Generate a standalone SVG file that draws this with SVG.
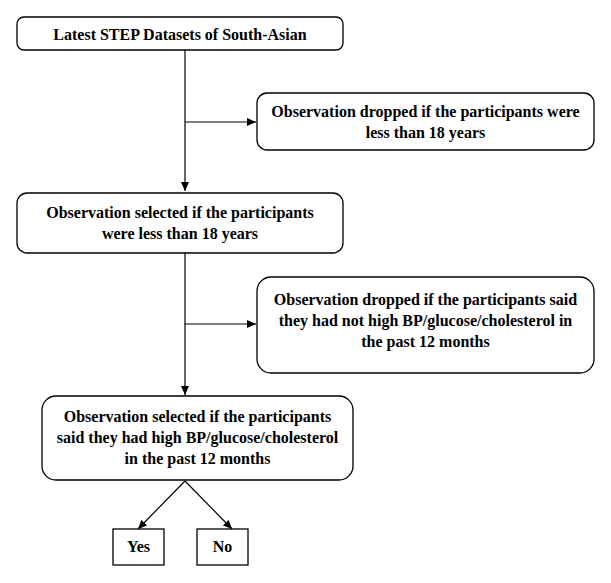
<svg xmlns="http://www.w3.org/2000/svg" width="611" height="583" viewBox="0 0 611 583">
<style>
.box{fill:#fff;stroke:#000;stroke-width:1.3}
.t{font-weight:bold;font-size:16px;fill:#000;text-anchor:middle}
.c{stroke:#000;stroke-width:1.2;fill:none}
</style>
<defs>
<marker id="ah" markerWidth="10" markerHeight="10" refX="9" refY="5" orient="auto" markerUnits="userSpaceOnUse">
<path d="M0,1 L9,5 L0,9 Z" fill="#000"/>
</marker>
</defs>
<g id="connectors">
<line class="c" x1="185" y1="50" x2="185" y2="191" marker-end="url(#ah)"/>
<line class="c" x1="185" y1="122" x2="256" y2="122" marker-end="url(#ah)"/>
<line class="c" x1="185" y1="253" x2="185" y2="395" marker-end="url(#ah)"/>
<line class="c" x1="185" y1="324" x2="256" y2="324" marker-end="url(#ah)"/>
<line class="c" x1="185" y1="481" x2="138" y2="529" marker-end="url(#ah)"/>
<line class="c" x1="185" y1="481" x2="232" y2="529" marker-end="url(#ah)"/>
</g>
<g font-family="'Liberation Serif', 'Times New Roman', serif">
<g id="n1">
<rect class="box" x="17" y="17" width="326" height="33" rx="7"/>
<text class="t" x="180" y="40">Latest STEP Datasets of South-Asian</text>
</g>
<g id="n2">
<rect class="box" x="257" y="93" width="337" height="57" rx="10"/>
<text class="t" x="425.5" y="117">Observation dropped if the participants were</text>
<text class="t" x="425.5" y="138">less than 18 years</text>
</g>
<g id="n3">
<rect class="box" x="17" y="193" width="326" height="60" rx="10"/>
<text class="t" x="180" y="218">Observation selected if the participants</text>
<text class="t" x="180" y="239">were less than 18 years</text>
</g>
<g id="n4">
<rect class="box" x="257" y="277" width="337" height="96" rx="14"/>
<text class="t" x="425.5" y="305">Observation dropped if the participants said</text>
<text class="t" x="425.5" y="326">they had not high BP/glucose/cholesterol in</text>
<text class="t" x="425.5" y="347">the past 12 months</text>
</g>
<g id="n5">
<rect class="box" x="42" y="396" width="311" height="84" rx="14"/>
<text class="t" x="197.5" y="422">Observation selected if the participants</text>
<text class="t" x="197.5" y="443">said they had high BP/glucose/cholesterol</text>
<text class="t" x="197.5" y="464">in the past 12 months</text>
</g>
<g id="n6">
<rect class="box" x="113" y="529" width="51" height="36"/>
<text class="t" x="138.5" y="552">Yes</text>
</g>
<g id="n7">
<rect class="box" x="197" y="529" width="51" height="36"/>
<text class="t" x="222.5" y="552">No</text>
</g>
</g>
</svg>
